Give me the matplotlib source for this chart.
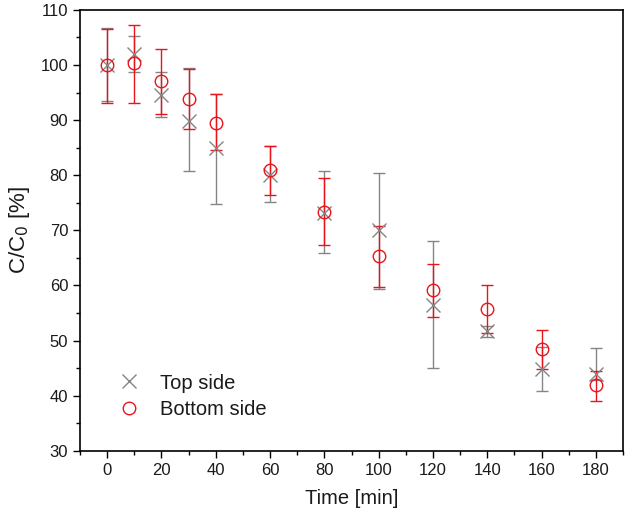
import numpy as np
import matplotlib.pyplot as plt
from matplotlib.ticker import MultipleLocator

plt.rcParams['font.family'] = ['Liberation Sans', 'DejaVu Sans']

# Time points [min]
time = [0, 10, 20, 30, 40, 60, 80, 100, 120, 140, 160, 180]

# Top side: mean, lower error, upper error
top_mean = [100.0, 102.0, 94.5, 89.8, 84.9, 80.1, 73.2, 70.1, 56.5, 51.8, 44.9, 43.9]
top_lo = [6.6, 3.2, 4.0, 9.1, 10.1, 4.9, 7.3, 10.7, 11.5, 1.2, 4.0, 1.1]
top_hi = [6.7, 3.3, 4.2, 9.7, 9.9, 5.3, 7.5, 10.4, 11.5, 0.9, 4.0, 4.8]

# Bottom side: mean, lower error, upper error
bot_mean = [100.0, 100.4, 97.1, 93.9, 89.4, 81.0, 73.4, 65.4, 59.1, 55.7, 48.4, 41.9]
bot_lo = [6.8, 7.2, 6.0, 5.5, 4.9, 4.5, 6.1, 5.6, 4.8, 4.3, 3.5, 2.9]
bot_hi = [6.5, 6.8, 5.9, 5.4, 5.3, 4.4, 6.1, 5.4, 4.8, 4.4, 3.5, 2.6]

fig = plt.figure(figsize=(6.3, 5.23), dpi=100)
ax = fig.add_axes([0.127, 0.138, 0.862, 0.843])

gray = '#858585'
red = '#e8141c'
txt = '#1a1a1a'

ax.errorbar(time, top_mean, yerr=[top_lo, top_hi], fmt='x', color=gray,
            ecolor=gray, elinewidth=1.0, capsize=4, capthick=1.0,
            markersize=9.5, markeredgewidth=1.0, label='Top side')
ax.errorbar(time, bot_mean, yerr=[bot_lo, bot_hi], fmt='o', color=red,
            ecolor=red, elinewidth=1.0, capsize=4, capthick=1.5,
            markersize=9, markerfacecolor='none', markeredgewidth=1.0,
            label='Bottom side')

ax.set_xlim(-10, 190)
ax.set_ylim(30, 110)
ax.xaxis.set_major_locator(MultipleLocator(20))
ax.xaxis.set_minor_locator(MultipleLocator(10))
ax.yaxis.set_major_locator(MultipleLocator(10))
ax.yaxis.set_minor_locator(MultipleLocator(5))
ax.tick_params(which='both', direction='out', top=False, right=False,
               labelsize=12, width=1.0, labelcolor=txt)
ax.tick_params(which='major', length=5)
ax.tick_params(which='minor', length=3)
for s in ax.spines.values():
    s.set_linewidth(1.2)

ax.set_xlabel('Time [min]', fontsize=14.5, labelpad=8, color=txt)
ax.set_ylabel('C/C$_0$ [%]', fontsize=16, labelpad=6, color=txt)

handles, labels = ax.get_legend_handles_labels()
handles = [h[0] for h in handles]
leg = ax.legend(handles, labels, loc='lower left', bbox_to_anchor=(0.035, 0.032),
                frameon=False, fontsize=14.5, handletextpad=0.95, labelspacing=0.35,
                handlelength=1.2)
for t in leg.get_texts():
    t.set_color(txt)

fig.savefig('out.png', dpi=100)
